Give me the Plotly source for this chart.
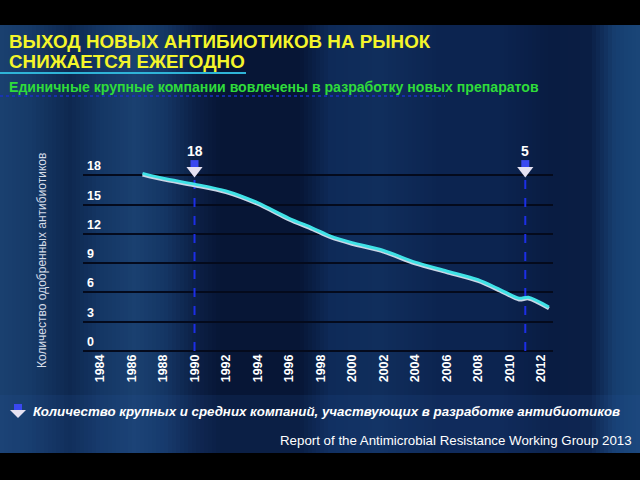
import plotly.graph_objects as go

# ---- data ----
years = [1986.7, 1988, 1990, 1992, 1994, 1996, 1997.5, 1998.6, 2000, 2002, 2004, 2006, 2008, 2009.4, 2010.6, 2011.2, 2012.5]
approved = [18.2, 17.7, 17.1, 16.4, 15.2, 13.6, 12.6, 11.8, 11.1, 10.3, 9.1, 8.2, 7.3, 6.3, 5.4, 5.5, 4.5]
x_ticks = list(range(1984, 2013, 2))
y_ticks = [0, 3, 6, 9, 12, 15, 18]
marker_years = [1990, 2011]
marker_labels = ["18", "5"]

title_lines = ["ВЫХОД НОВЫХ АНТИБИОТИКОВ НА РЫНОК", "СНИЖАЕТСЯ ЕЖЕГОДНО"]
subtitle = "Единичные крупные компании вовлечены в разработку новых препаратов"
y_title = "Количество одобренных антибиотиков"
legend_text = "Количество крупных и средних компаний, участвующих в разработке антибиотиков"
source = "Report of the Antimicrobial Resistance Working Group 2013"

W, H = 640, 480
FONT = "Arial, Liberation Sans, sans-serif"
Y_TOP = 21.5
UNIT = 9.76

def px(x):
    return min(max(x / W, 0.0), 1.0)

def py(y):
    return min(max((H - y) / H, 0.0), 1.0)

fig = go.Figure()

# vertical marker lines (dashed blue)
for yr in marker_years:
    fig.add_trace(go.Scatter(x=[yr, yr], y=[0, 18], mode="lines",
                             line=dict(color="#1c2ee6", width=2, dash="dash"),
                             hoverinfo="skip", showlegend=False))

# line with whitish underside
fig.add_trace(go.Scatter(x=years, y=[v - 0.14 for v in approved], mode="lines",
                         line=dict(color="#c9d6e6", width=3.5, shape="spline", smoothing=0.8),
                         hoverinfo="skip", showlegend=False))
fig.add_trace(go.Scatter(x=years, y=approved, mode="lines",
                         line=dict(color="#3fe2e6", width=3, shape="spline", smoothing=0.8),
                         showlegend=False))

# arrows at the marker years
fig.add_trace(go.Scatter(x=marker_years, y=[19.15] * len(marker_years), mode="markers",
                         marker=dict(symbol="square", size=8, color="#3a48f0", line=dict(width=0)),
                         cliponaxis=False, hoverinfo="skip", showlegend=False))
fig.add_trace(go.Scatter(x=marker_years, y=[18.5] * len(marker_years), mode="markers",
                         marker=dict(symbol="triangle-down", size=14, color="#e6e2f2", line=dict(width=0)),
                         cliponaxis=False, hoverinfo="skip", showlegend=False))
for yr, lab in zip(marker_years, marker_labels):
    fig.add_annotation(x=yr, y=20.5, xref="x", yref="y", text=f"<b>{lab}</b>", showarrow=False,
                       font=dict(family=FONT, size=14, color="white"))

# y tick labels sitting just above their gridlines
for t in y_ticks:
    fig.add_annotation(x=px(85), y=t, xref="paper", yref="y", xanchor="left", yanchor="middle",
                       yshift=9, text=f"<b>{t}</b>", showarrow=False,
                       font=dict(family=FONT, size=12.5, color="white"))

# ---- background shapes ----
bg_keys = [
    (0, (26, 64, 112)), (30, (22, 58, 104)), (70, (14, 40, 80)), (100, (20, 54, 100)),
    (135, (26, 64, 112)), (165, (20, 54, 100)), (195, (12, 32, 70)), (220, (7, 22, 54)),
    (300, (7, 22, 54)), (330, (14, 42, 88)), (380, (16, 46, 92)), (440, (12, 36, 80)),
    (500, (12, 36, 80)), (550, (9, 28, 66)), (590, (10, 30, 68)), (615, (22, 62, 112)),
    (640, (26, 70, 120)),
]

def bg_color(x):
    for (x0, c0), (x1, c1) in zip(bg_keys[:-1], bg_keys[1:]):
        if x0 <= x <= x1:
            t = (x - x0) / (x1 - x0)
            return "rgb(%d,%d,%d)" % tuple(round(a + (b - a) * t) for a, b in zip(c0, c1))
    return "rgb(%d,%d,%d)" % bg_keys[-1][1]

shapes = []
step = 4
for x in range(0, W, step):
    shapes.append(dict(type="rect", xref="paper", yref="paper", x0=px(x), x1=px(x + step + 0.5),
                       y0=0, y1=1, fillcolor=bg_color(x + step / 2), line=dict(width=0), layer="below"))
# lower band slightly brighter
shapes.append(dict(type="rect", xref="paper", yref="paper", x0=0, x1=1, y0=py(455), y1=py(395),
                   fillcolor="rgba(40,90,160,0.15)", line=dict(width=0), layer="below"))
# black bars
shapes.append(dict(type="rect", xref="paper", yref="paper", x0=0, x1=1, y0=py(25), y1=1,
                   fillcolor="black", line=dict(width=0), layer="above"))
shapes.append(dict(type="rect", xref="paper", yref="paper", x0=0, x1=1, y0=0, y1=py(453),
                   fillcolor="black", line=dict(width=0), layer="above"))
# title underline
shapes.append(dict(type="line", xref="paper", yref="paper", x0=0, x1=px(246), y0=py(73), y1=py(73),
                   line=dict(color="#2fb4d8", width=2), layer="above"))
# dotted line under subtitle
shapes.append(dict(type="line", xref="paper", yref="paper", x0=0, x1=px(445), y0=py(96), y1=py(96),
                   line=dict(color="#1a30c8", width=1.5, dash="dot"), layer="above"))
# legend icon (arrow)
shapes.append(dict(type="rect", xref="paper", yref="paper", x0=px(14), x1=px(22), y0=py(411), y1=py(404),
                   fillcolor="#3a48f0", line=dict(width=0), layer="above"))
shapes.append(dict(type="path", xref="paper", yref="paper",
                   path=f"M {px(10)},{py(410)} L {px(26)},{py(410)} L {px(18)},{py(418)} Z",
                   fillcolor="#e6e2f2", line=dict(width=0), layer="above"))

annotations = [
    dict(x=px(7), y=py(41), xref="paper", yref="paper", xanchor="left", yanchor="middle",
         text=f"<b>{title_lines[0]}</b>", showarrow=False,
         font=dict(family=FONT, size=18.8, color="#f4f52a")),
    dict(x=px(7), y=py(62), xref="paper", yref="paper", xanchor="left", yanchor="middle",
         text=f"<b>{title_lines[1]}</b>", showarrow=False,
         font=dict(family=FONT, size=18.8, color="#f4f52a")),
    dict(x=px(7), y=py(87), xref="paper", yref="paper", xanchor="left", yanchor="middle",
         text=f"<b>{subtitle}</b>", showarrow=False,
         font=dict(family=FONT, size=14.1, color="#2fdc3a")),
    dict(x=px(42), y=py(261), xref="paper", yref="paper", xanchor="center", yanchor="middle",
         text=y_title, textangle=-90, showarrow=False,
         font=dict(family=FONT, size=12, color="#d6dce8")),
    dict(x=px(31), y=py(411), xref="paper", yref="paper", xanchor="left", yanchor="middle",
         text=f"<b><i>{legend_text}</i></b>", showarrow=False,
         font=dict(family=FONT, size=13.3, color="white")),
    dict(x=px(634), y=py(440), xref="paper", yref="paper", xanchor="right", yanchor="middle",
         text=source, showarrow=False,
         font=dict(family=FONT, size=13.3, color="white")),
]
for a in annotations:
    fig.add_annotation(**a)

fig.update_layout(
    width=W, height=H, autosize=False,
    margin=dict(l=0, r=0, t=0, b=0, pad=0),
    paper_bgcolor="#0d2858",
    plot_bgcolor="rgba(0,0,0,0)",
    shapes=shapes,
    showlegend=False,
    xaxis=dict(domain=[px(83), px(553)], range=[1982.92, 2012.76], automargin=False,
               tickmode="array", tickvals=x_ticks, ticktext=[f"<b>{t}</b>" for t in x_ticks],
               tickangle=-90, showgrid=False, zeroline=False, showline=False, ticks="",
               tickfont=dict(family=FONT, size=12.5, color="white"), fixedrange=True),
    yaxis=dict(domain=[py(351), py(351 - Y_TOP * UNIT)], range=[0, Y_TOP], automargin=False,
               tickmode="array", tickvals=y_ticks, showticklabels=False,
               showgrid=True, gridcolor="#040a1c", gridwidth=2,
               zeroline=True, zerolinecolor="#040a1c", zerolinewidth=2,
               showline=False, ticks="", fixedrange=True),
)

fig.write_html("out.html")
